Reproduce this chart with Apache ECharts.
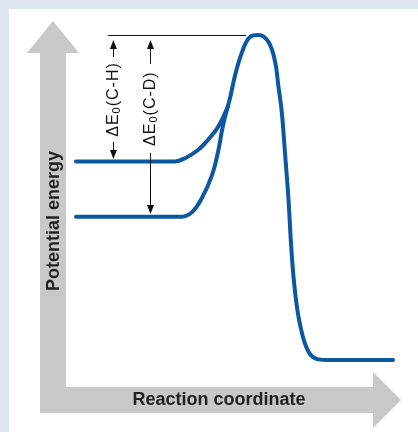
<!DOCTYPE html>
<html>
<head>
<meta charset="utf-8">
<script src="https://cdn.jsdelivr.net/npm/echarts@6/dist/echarts.min.js"></script>
<style>
html, body { margin: 0; padding: 0; background: #dfe6f1; }
#chart { width: 418px; height: 432px; }
</style>
</head>
<body>
<div id="chart"></div>
<script>
// reaction coordinate runs 0..100, potential energy 0 (product) .. 100 (barrier top)
const cdX = [0, 33.4, 36.6, 39.7, 42.9, 44.8, 46.4, 48.6, 50.2, 52.4, 54.9, 57.6, 60.7, 62.8, 63.8, 64.9, 65.9, 67.0, 68.0, 69.1, 70.7, 73.3, 76.4, 79.5, 100];
const cdE = [44.1, 44.1, 45.5, 49.8, 56.9, 64.0, 72.3, 80.6, 87.7, 94.8, 99.4, 100, 97.9, 91.8, 84.6, 76.4, 64.1, 49.8, 33.3, 21.0, 10.8, 2.6, 0.2, 0, 0];
const chX = [0, 31.2, 34.4, 38.5, 41.6, 44.8, 47.9];
const chE = [61.1, 61.1, 62.1, 64.6, 67.7, 71.7, 78.0];

// annotation: barrier line and the two ΔE0 double arrows
const barrierLine = [10.1, 53.6];
const arrowX = { "C-H": 11.8, "C-D": 23.5 };
const arrowTop = 97.1;
const arrowUpper = { "C-H": 93.2, "C-D": 91.1 };
const arrowLower = { "C-H": 67.1, "C-D": 63.7 };
const arrowBottom = { "C-H": 63.2, "C-D": 46.3 };
const labelE = { "C-H": 80.0, "C-D": 77.2 };

const FONT = '"Liberation Sans", Arial, sans-serif';
const BLUE = "#0b57a2";
const pairs = (xs, ys) => xs.map((x, i) => [x, ys[i]]);

const deltaLabel = name => `{c|Δ}{c|E}{s|0}${[..."(" + name + ")"].map(ch => `{c|${ch}}`).join("")}`;

const arrowSeg = (x, from, to) => [
  { coord: [x, from], symbol: "none" },
  { coord: [x, to], symbol: "triangle", symbolSize: [7, 9] }
];

const chart = echarts.init(document.getElementById("chart"));
chart.setOption({
  animation: false,
  backgroundColor: "#dfe6f1",
  grid: { left: 76, right: 25, top: 35, bottom: 72 },
  xAxis: { type: "value", min: 0, max: 100, show: false },
  yAxis: { type: "value", min: 0, max: 100, show: false },
  graphic: [
    { type: "rect", z: -10, shape: { x: 9, y: 9, width: 409, height: 423 }, style: { fill: "#ffffff" } },
    {
      type: "polygon", z: -9,
      shape: { points: [[40, 53], [27, 53], [53, 21], [79, 53], [66, 53], [66, 387], [373, 387], [373, 372], [401, 400], [373, 428], [373, 413], [40, 413]] },
      style: { fill: "#c8c8c9" }
    },
    {
      type: "text", z: -8, x: 54, y: 221, rotation: Math.PI / 2,
      style: { text: "Potential energy", font: `bold 18px ${FONT}`, fill: "#231f20", align: "center", verticalAlign: "middle" }
    },
    {
      type: "text", z: -8, x: 219, y: 400,
      style: { text: "Reaction coordinate", font: `bold 18px ${FONT}`, fill: "#231f20", align: "center", verticalAlign: "middle" }
    }
  ],
  series: [
    {
      name: "C-D", type: "line", data: pairs(cdX, cdE),
      smooth: 0.4, showSymbol: false, silent: true,
      lineStyle: { color: BLUE, width: 4, cap: "round" },
      markLine: {
        silent: true, animation: false,
        lineStyle: { color: "#111", width: 1, type: "solid" },
        label: { show: false },
        data: [
          [{ coord: [barrierLine[0], 100], symbol: "none" }, { coord: [barrierLine[1], 100], symbol: "none" }],
          ...["C-H", "C-D"].flatMap(k => [
            arrowSeg(arrowX[k], arrowUpper[k], arrowTop),
            arrowSeg(arrowX[k], arrowLower[k], arrowBottom[k])
          ])
        ]
      },
      markPoint: {
        silent: true, animation: false,
        symbol: "circle", symbolSize: 1,
        itemStyle: { color: "rgba(0,0,0,0)" },
        label: {
          show: true, position: "inside", rotate: 90,
          formatter: p => deltaLabel(p.name),
          rich: {
            c: { fontSize: 16, fontFamily: FONT, color: "#111", padding: [0, 0.5, 0, 0.5] },
            s: { fontSize: 11, fontFamily: FONT, color: "#111", padding: [7, 0.5, 0, 0.5] }
          }
        },
        data: ["C-H", "C-D"].map(k => ({ name: k, coord: [arrowX[k], labelE[k]] }))
      }
    },
    {
      name: "C-H", type: "line", data: pairs(chX, chE),
      smooth: 0.4, showSymbol: false, silent: true,
      lineStyle: { color: BLUE, width: 4, cap: "round" }
    }
  ]
});
</script>
</body>
</html>
